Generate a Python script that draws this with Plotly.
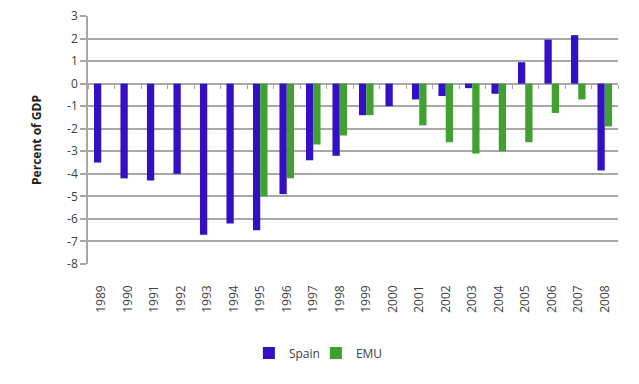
import plotly.graph_objects as go

years = [str(y) for y in range(1989, 2009)]
spain = [-3.5, -4.2, -4.3, -4.0, -6.7, -6.2, -6.5, -4.9, -3.4, -3.2,
         -1.4, -1.0, -0.7, -0.55, -0.2, -0.45, 0.95, 1.95, 2.15, -3.85]
emu = [None, None, None, None, None, None, -5.0, -4.2, -2.7, -2.3,
       -1.4, None, -1.85, -2.6, -3.1, -3.0, -2.6, -1.3, -0.7, -1.9]
y_ticks = list(range(-8, 4))
y_tick_text = [str(v) for v in y_ticks]

SPAIN_COLOR = "#3410c4"
EMU_COLOR = "#40a030"
GRID = "#a8a8a8"
TEXT = "#404040"
FONT = "Open Sans"

fig = go.Figure()
fig.add_trace(go.Bar(x=years, y=spain, name="Spain", marker_color=SPAIN_COLOR,
                     marker_line_width=0))
fig.add_trace(go.Bar(x=years, y=emu, name="EMU", marker_color=EMU_COLOR,
                     marker_line_width=0))
# invisible helper trace to draw category tick marks along the zero line
fig.add_trace(go.Scatter(x=[0], y=[0], xaxis="x2", yaxis="y", mode="markers",
                         marker_opacity=0, showlegend=False, hoverinfo="skip"))

ymin, ymax = -8, 3
fig.update_layout(
    width=639, height=384,
    margin=dict(l=88, r=21, t=16, b=120, autoexpand=False),
    paper_bgcolor="white", plot_bgcolor="white",
    barmode="group", bargap=0.45, bargroupgap=0,
    font=dict(family=FONT, size=12, color=TEXT),
    showlegend=True,
    legend=dict(orientation="h", x=0.43, xanchor="center", y=-0.30, yanchor="top",
                font=dict(size=12, color=TEXT), itemwidth=30, traceorder="normal",
                entrywidth=22),
    xaxis=dict(type="category", range=[-0.5, 19.5], showgrid=False, automargin=False,
               tickangle=-90, ticks="", showline=False, zeroline=False,
               ticklabelstandoff=18, tickfont=dict(size=12, color=TEXT)),
    xaxis2=dict(type="linear", range=[-0.5, 19.5], overlaying="x", anchor="free",
                position=(0 - ymin) / (ymax - ymin), side="bottom", automargin=False,
                tickvals=[i + 0.5 for i in range(-1, 20)], ticks="outside",
                ticklen=4, tickcolor=GRID, tickwidth=1.2, showticklabels=False,
                showgrid=False, showline=False, zeroline=False),
    yaxis=dict(range=[ymin, ymax], tickvals=y_ticks, ticktext=y_tick_text,
               showgrid=True, gridcolor=GRID, automargin=False,
               gridwidth=1.5, zeroline=True, zerolinecolor=GRID, zerolinewidth=1.5,
               showline=True, linecolor=GRID, linewidth=1.5,
               ticks="outside", ticklen=6, tickcolor=GRID, tickwidth=1.5,
               tickfont=dict(size=12, color=TEXT),
               title=dict(text="<b>Percent of GDP</b>", font=dict(size=12, color="#202020"),
                          standoff=23)),
)

fig.write_html("out.html", config={"displayModeBar": False},
               post_script="document.body.style.margin='0';")
